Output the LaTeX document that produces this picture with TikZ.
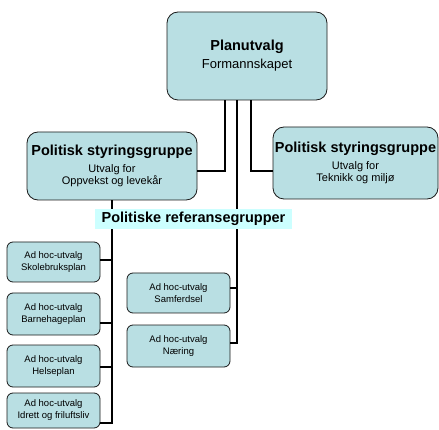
\documentclass[tikz,border=0pt]{standalone}
\usepackage{fontspec}
\setmainfont{Liberation Sans}
\usepackage{xcolor}
\definecolor{OrgBox}{HTML}{B9DFE3}
\definecolor{OrgRef}{HTML}{CCFFFF}
\usetikzlibrary{positioning}
\newcommand{\orghead}[1]{{\fontsize{14.5}{17}\selectfont\bfseries #1}}
\newcommand{\orgsub}{\fontsize{11}{12.5}\selectfont}
\newcommand{\orgsmall}{\fontsize{9.5}{12}\selectfont}

\begin{document}
\begin{tikzpicture}[x=1pt, y=-1pt,
  box/.style={draw=black!90, line width=0.8pt, fill=OrgBox, rounded corners=11pt,
    align=center, inner sep=1pt},
  big/.style={box, font=\orgsub},
  adhoc/.style={box, rounded corners=6pt, minimum width=93pt, minimum height=41pt,
    font=\orgsmall},
  conn/.style={line width=1.3pt, color=black}
]
\useasboundingbox (0,0) rectangle (439,430);

\node[box, minimum width=160pt, minimum height=88pt, font=\fontsize{13}{18}\selectfont]
  (plan) at (247,56) {\orghead{Planutvalg}\\Formannskapet};
\node[big, minimum width=170pt, minimum height=68pt]
  (polL) at (112,166) {\orghead{Politisk styringsgruppe}\\[4pt]Utvalg for\\Oppvekst og levekår};
\node[big, minimum width=165pt, minimum height=72pt]
  (polR) at (355.5,163) {\orghead{Politisk styringsgruppe}\\[4pt]Utvalg for\\Teknikk og miljø};

% ad hoc-utvalg, venstre
\node[adhoc, minimum height=40pt] (skole) at (53.5,262) {Ad hoc-utvalg\\Skolebruksplan};
\node[adhoc, minimum height=42pt] (barne) at (53.5,314) {Ad hoc-utvalg\\Barnehageplan};
\node[adhoc, minimum height=42pt] (helse) at (53.5,366) {Ad hoc-utvalg\\Helseplan};
\node[adhoc, minimum height=35pt] (idrett) at (53.5,410.5) {Ad hoc-utvalg\\Idrett og friluftsliv};
% ad hoc-utvalg, midten
\node[adhoc, minimum width=103pt, minimum height=40pt] (samf) at (178.5,293) {Ad hoc-utvalg\\Samferdsel};
\node[adhoc, minimum width=103pt, minimum height=42pt] (naer) at (178.5,346) {Ad hoc-utvalg\\Næring};

\draw[conn] ([xshift=-22pt]plan.south) |- ([yshift=-5pt]polL.east);
\draw[conn] ([xshift=4pt]plan.south) |- ([yshift=-8pt]polR.west);
\draw[conn] ([xshift=-10pt]plan.south) |- ([yshift=3pt]naer.east);
\draw[conn] ([yshift=5pt]samf.east) -| ([xshift=-10pt]plan.south);

\draw[conn] (polL.south) |- ([yshift=-12.5pt]idrett.east);
\foreach \b/\d in {skole/2pt, barne/-9pt, helse/-1pt}
  \draw[conn] ([yshift=\d]\b.east) -| (polL.south);

\node[fill=OrgRef, minimum width=197pt, minimum height=20pt, inner sep=0pt]
  (ref) at (193.5,219) {\orghead{Politiske referansegrupper}};
\end{tikzpicture}
\end{document}
